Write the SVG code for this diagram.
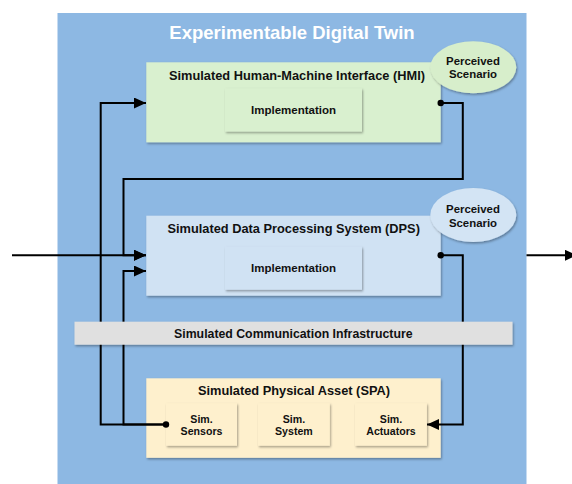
<svg xmlns="http://www.w3.org/2000/svg" width="572" height="484" viewBox="0 0 572 484">
  <style>
    text { font-family: "Liberation Sans", Arial, sans-serif; font-weight: bold; fill: #111; text-anchor: middle; }
    .title { font-size: 18.5px; fill: #ffffff; }
    .head { font-size: 12.8px; }
    .impl { font-size: 11.5px; }
    .small { font-size: 10.6px; }
    .bubble { font-size: 11.4px; }
    .wire { fill: none; stroke: #000; stroke-width: 2; }
    .box { filter: url(#shadow); }
  </style>
  <defs>
    <filter id="shadow" x="-10%" y="-10%" width="130%" height="140%">
      <feDropShadow dx="1" dy="1.5" stdDeviation="1.2" flood-color="#000" flood-opacity="0.35"/>
    </filter>
    <marker id="arrow" markerUnits="userSpaceOnUse" markerWidth="13" markerHeight="12" refX="12" refY="5.5" orient="auto">
      <path d="M0,0 L12,5.5 L0,11 Z" fill="#000"/>
    </marker>
    <marker id="dot" markerUnits="userSpaceOnUse" markerWidth="8" markerHeight="8" refX="4" refY="4">
      <circle cx="4" cy="4" r="3.2" fill="#000"/>
    </marker>
  </defs>

  <!-- Enclosing digital twin -->
  <g id="digital-twin">
    <rect x="57.5" y="13" width="469" height="475" fill="#8DB8E3"/>
    <text class="title" x="292" y="39.4">Experimentable Digital Twin</text>
  </g>

  <!-- Simulated HMI -->
  <g id="hmi">
    <rect class="box" x="146.3" y="62.3" width="294.4" height="80" fill="#D9F0CF"/>
    <text class="head" x="297" y="79.6">Simulated Human-Machine Interface (HMI)</text>
    <rect class="box" x="225" y="88.3" width="137" height="43.2" fill="#D9F0CF"/>
    <text class="impl" x="293.5" y="114.1">Implementation</text>
  </g>
  <g id="hmi-scenario">
    <ellipse class="box" cx="473.3" cy="67.3" rx="43" ry="26" fill="#D7EECB"/>
    <text class="bubble" x="473" y="64.8">Perceived</text>
    <text class="bubble" x="473" y="78.1">Scenario</text>
  </g>

  <!-- Simulated DPS -->
  <g id="dps">
    <rect class="box" x="146.3" y="215.7" width="294.4" height="80" fill="#D0E2F3"/>
    <text class="head" x="293.7" y="232.9">Simulated Data Processing System (DPS)</text>
    <rect class="box" x="225" y="246.7" width="137" height="43" fill="#D0E2F3"/>
    <text class="impl" x="293.5" y="272.4">Implementation</text>
  </g>
  <g id="dps-scenario">
    <ellipse class="box" cx="473.3" cy="215" rx="43" ry="27" fill="#D3E4F4"/>
    <text class="bubble" x="473" y="213.1">Perceived</text>
    <text class="bubble" x="473" y="226.8">Scenario</text>
  </g>

  <!-- Simulated physical asset -->
  <g id="spa">
    <rect class="box" x="146.3" y="378.3" width="294.4" height="79.5" fill="#FEF0CD"/>
    <text class="head" x="294" y="395.3">Simulated Physical Asset (SPA)</text>
  </g>
  <g id="sensors">
    <rect class="box" x="166" y="403.2" width="71" height="42.5" fill="#FEF0CD"/>
    <text class="small" x="201.5" y="422.6">Sim.</text>
    <text class="small" x="201.5" y="435.2">Sensors</text>
  </g>
  <g id="system">
    <rect class="box" x="258" y="403.2" width="71.8" height="42.5" fill="#FEF0CD"/>
    <text class="small" x="293.9" y="422.6">Sim.</text>
    <text class="small" x="293.9" y="435.2">System</text>
  </g>
  <g id="actuators">
    <rect class="box" x="355" y="403.2" width="71.9" height="42.5" fill="#FEF0CD"/>
    <text class="small" x="391" y="422.6">Sim.</text>
    <text class="small" x="391" y="435.2">Actuators</text>
  </g>

  <!-- Signal flow -->
  <g id="connectors">
    <path class="wire" d="M12,255.3 H146" marker-end="url(#arrow)"/>
    <path class="wire" d="M440.7,103 H462.8 V179 H123.5 V255.3 H146" marker-start="url(#dot)" marker-end="url(#arrow)"/>
    <path class="wire" d="M166,424.5 H123.5 V271 H146" marker-start="url(#dot)" marker-end="url(#arrow)"/>
    <path class="wire" d="M166,424.5 H100.7 V103 H146" marker-end="url(#arrow)"/>
    <path class="wire" d="M440.7,255.3 H462.8 V424.5 H427" marker-start="url(#dot)" marker-end="url(#arrow)"/>
    <path class="wire" d="M526.5,255.3 H577" marker-end="url(#arrow)"/>
  </g>

  <!-- Communication layer -->
  <g id="communication">
    <rect class="box" x="74.5" y="321.7" width="438" height="23" fill="#E0E0E0"/>
    <text class="head" x="293.3" y="338.4" style="font-size:12.3px">Simulated Communication Infrastructure</text>
  </g>
</svg>
